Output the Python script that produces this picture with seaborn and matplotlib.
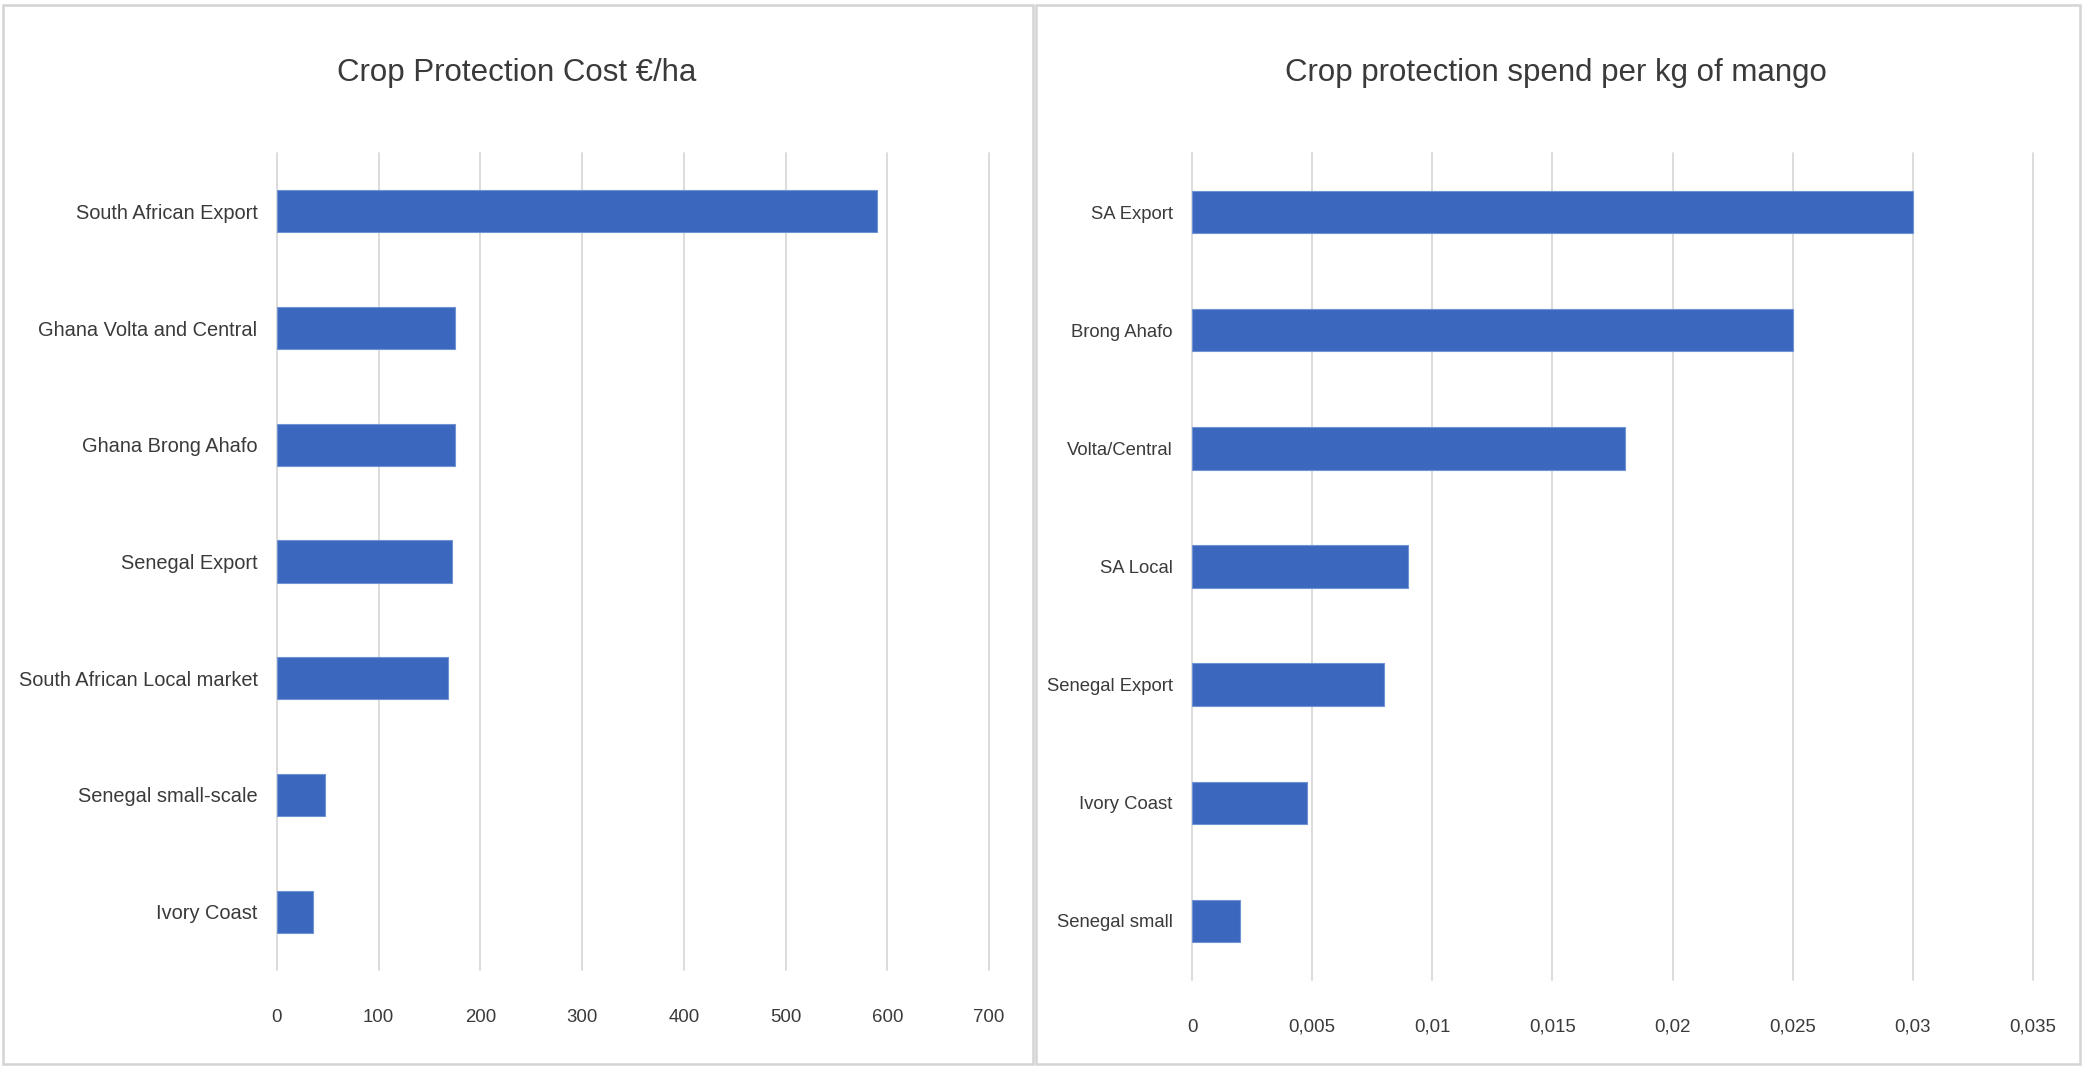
import matplotlib
matplotlib.use("Agg")
import matplotlib.pyplot as plt
import seaborn as sns
import pandas as pd
from matplotlib.patches import Rectangle

# Crop protection cost per hectare (EUR/ha)
cost_regions = ["South African Export", "Ghana Volta and Central", "Ghana Brong Ahafo",
                "Senegal Export", "South African Local market", "Senegal small-scale",
                "Ivory Coast"]
cost_values = [590, 175, 175, 172, 168, 47, 35]
cost_ticks = [0, 100, 200, 300, 400, 500, 600, 700]
cost_tick_labels = ["0", "100", "200", "300", "400", "500", "600", "700"]

# Crop protection spend per kg of mango (EUR/kg)
kg_regions = ["SA Export", "Brong Ahafo", "Volta/Central", "SA Local",
              "Senegal Export", "Ivory Coast", "Senegal small"]
kg_values = [0.030, 0.025, 0.018, 0.009, 0.008, 0.0048, 0.002]
kg_ticks = [0, 0.005, 0.01, 0.015, 0.02, 0.025, 0.03, 0.035]
kg_tick_labels = ["0", "0,005", "0,01", "0,015", "0,02", "0,025", "0,03", "0,035"]

titles = ["Crop Protection Cost €/ha", "Crop protection spend per kg of mango"]

sns.set_theme(style="white")
plt.rcParams["font.family"] = ["Liberation Sans", "DejaVu Sans"]

BAR = "#3B67BE"
TEXT = "#3A3A3A"
GRID = "#D9D9D9"
W, H = 2082, 1072

fig = plt.figure(figsize=(W / 100, H / 100), dpi=100)
fig.patch.set_facecolor("white")

# Chart frames
for (x0, x1) in [(3, 1033), (1036, 2080)]:
    fig.patches.append(Rectangle((x0 / W, 1 - 1064 / H), (x1 - x0) / W, (1064 - 5) / H,
                                 transform=fig.transFigure, fill=False,
                                 edgecolor="#D4D4D4", linewidth=1.8, zorder=0))

panels = [
    dict(cats=cost_regions, vals=cost_values, ticks=cost_ticks, labels=cost_tick_labels,
         rect=[277 / W, 1 - 970 / H, (989 - 277) / W, (970 - 153) / H],
         title=titles[0], tx=517 / W, ysize=14.4),
    dict(cats=kg_regions, vals=kg_values, ticks=kg_ticks, labels=kg_tick_labels,
         rect=[1192 / W, 1 - 980 / H, (2033 - 1192) / W, (980 - 153) / H],
         title=titles[1], tx=1556 / W, ysize=13.3),
]

for p in panels:
    ax = fig.add_axes(p["rect"])
    df = pd.DataFrame({"region": p["cats"], "value": p["vals"]})
    sns.barplot(data=df, x="value", y="region", orient="h", color=BAR,
                width=0.36, saturation=1, ax=ax, edgecolor="#7093D4", linewidth=0.8)
    ax.set_xlim(p["ticks"][0], p["ticks"][-1])
    ax.set_ylim(len(p["cats"]) - 0.5, -0.5)
    ax.set_xticks(p["ticks"])
    ax.set_xticklabels(p["labels"])
    ax.set_xlabel("")
    ax.set_ylabel("")
    ax.grid(axis="x", color=GRID, linewidth=1.3)
    ax.grid(axis="y", visible=False)
    ax.set_axisbelow(True)
    for gl in ax.get_xgridlines():
        gl.set_clip_on(False)
    for s in ax.spines.values():
        s.set_visible(False)
    ax.tick_params(axis="x", length=0, pad=28, labelsize=13.4, labelcolor=TEXT)
    ax.tick_params(axis="y", length=0, pad=14, labelsize=p["ysize"], labelcolor=TEXT)
    fig.text(p["tx"], 1 - 73 / H, p["title"], ha="center", va="center",
             fontsize=22.5, color=TEXT)

fig.savefig("out.png", dpi=100, facecolor="white")
